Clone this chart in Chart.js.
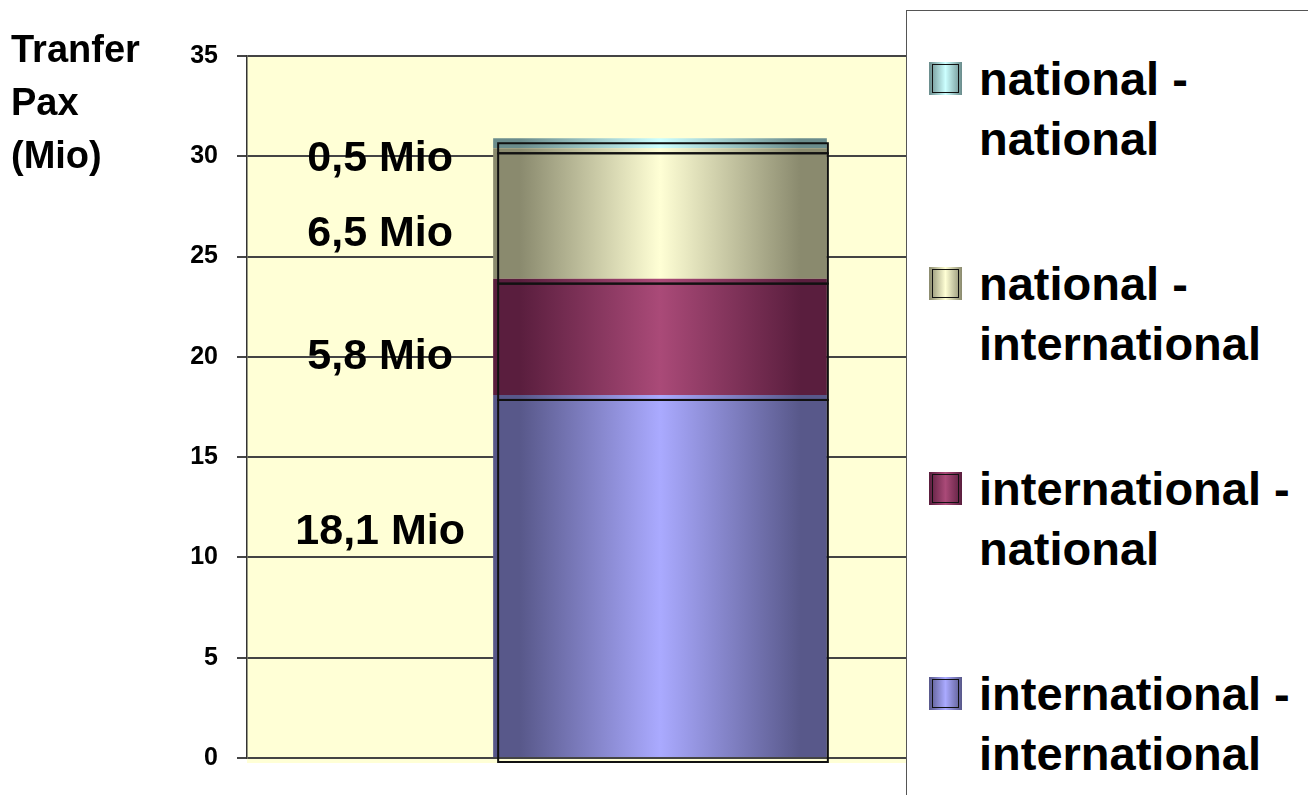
<!DOCTYPE html>
<html>
<head>
<meta charset="utf-8">
<script src="https://cdn.jsdelivr.net/npm/chart.js@4"></script>
<style>
  html, body { margin: 0; padding: 0; background: #fff; }
  body { width: 1308px; height: 795px; position: relative; overflow: hidden; font-family: "Liberation Sans", Arial, sans-serif; }
  #grafico { position: absolute; left: 0; top: 0; }
  #legenda {
    position: absolute; left: 906px; top: 10px; width: 420px; height: 800px;
    border-left: 1.5px solid #555; border-top: 1.5px solid #555; background: #fff;
  }
  .item { position: absolute; left: 0; }
  .icone { position: absolute; left: 22px; width: 33px; height: 33px; box-sizing: border-box; }
  .icone span { position: absolute; left: 3px; top: 2px; right: 3px; bottom: 2px; border: 1.5px solid #111; }
  .texto { position: absolute; left: 72px; font-weight: bold; font-size: 47px; line-height: 60px; color: #000; white-space: nowrap; }
</style>
</head>
<body>
<canvas id="grafico" width="1308" height="795"></canvas>
<div id="legenda"></div>
<script>
/* dados */
const categorias = ["Transfer"];
const series = ["international - international", "international - national", "national - international", "national - national"];
const valores = [[18.1], [5.8], [6.5], [0.5]];
const ticksY = [0, 5, 10, 15, 20, 25, 30, 35];
const tituloY = ["Tranfer", "Pax", "(Mio)"];

document.addEventListener("DOMContentLoaded", () => {

  /* cores: borda escura / centro claro */
  const cores = [
    { borda: "#58588a", centro: "#aaaaff" },
    { borda: "#5a1e3e", centro: "#aa4a78" },
    { borda: "#8a8a6e", centro: "#ffffd5" },
    { borda: "#6a8c8c", centro: "#ccffff" }
  ];

  const gradiente = (ctx, x0, x1, c) => {
    const g = ctx.createLinearGradient(x0, 0, x1, 0);
    g.addColorStop(0, c.borda);
    g.addColorStop(0.08, c.borda);
    g.addColorStop(0.5, c.centro);
    g.addColorStop(0.92, c.borda);
    g.addColorStop(1, c.borda);
    return g;
  };

  // a area do grafico continua por baixo da legenda
  const BAR_PCT = 0.404;

  const corBarra = c => {
    const chart = c.chart;
    const xs = chart.scales.x;
    const a = chart.chartArea;
    if (!xs || !a) return cores[c.datasetIndex].centro;
    const cx = xs.getPixelForValue(c.dataIndex);
    const w = (a.right - a.left) * BAR_PCT;
    if (!isFinite(cx) || !isFinite(w) || w <= 0) return cores[c.datasetIndex].centro;
    return gradiente(chart.ctx, cx - w / 2, cx + w / 2, cores[c.datasetIndex]);
  };

  /* plugin: fundo, titulo, contornos e rotulos */
  const extras = {
    id: "extras",
    beforeDraw(chart) {
      const { ctx, chartArea: a } = chart;
      ctx.save();
      ctx.fillStyle = "#ffffd6";
      ctx.fillRect(a.left, a.top, a.right - a.left, a.bottom - a.top + 5);
      ctx.fillStyle = "#000";
      ctx.font = "bold 38px 'Liberation Sans', Arial";
      ctx.textAlign = "left";
      ctx.textBaseline = "alphabetic";
      tituloY.forEach((t, i) => ctx.fillText(t, 11, 62 + i * 53));
      ctx.restore();
    },
    afterDatasetsDraw(chart, args, opts) {
      const { ctx } = chart;
      ctx.save();
      ctx.strokeStyle = "#111";
      ctx.lineWidth = 2;
      chart.data.datasets.forEach((ds, i) => {
        chart.getDatasetMeta(i).data.forEach(bar => {
          const { x, y, base, width } = bar.getProps(["x", "y", "base", "width"], true);
          ctx.strokeRect(x - width / 2 + 5, y + 5, width - 4, base - y);
        });
      });
      ctx.fillStyle = "#000";
      ctx.font = "bold 43px 'Liberation Sans', Arial";
      ctx.textAlign = "center";
      ctx.textBaseline = "middle";
      chart.data.datasets.forEach((ds, i) => {
        chart.getDatasetMeta(i).data.forEach((bar, j) => {
          const { x, y, base, width } = bar.getProps(["x", "y", "base", "width"], true);
          const txt = ds.data[j].toFixed(1).replace(".", ",") + " Mio";
          ctx.fillText(txt, x - width / 2 - opts.dx, (y + base) / 2 + opts.dy[i]);
        });
      });
      ctx.restore();
    }
  };

  const chart = new Chart(document.getElementById("grafico"), {
    type: "bar",
    data: {
      labels: categorias,
      datasets: series.map((nome, i) => ({
        label: nome,
        data: valores[i],
        backgroundColor: corBarra,
        borderWidth: 0,
        barPercentage: BAR_PCT,
        categoryPercentage: 1
      }))
    },
    plugins: [extras],
    options: {
      responsive: false,
      animation: false,
      devicePixelRatio: 1,
      layout: { padding: { left: 0, top: 56, right: 235, bottom: 37 } },
      plugins: {
        legend: { display: false },
        tooltip: { enabled: false },
        extras: { dx: 113, dy: [-44, 20, 21, 16] }
      },
      scales: {
        x: { stacked: true, display: false },
        y: {
          stacked: true,
          min: 0,
          max: 35,
          afterBuildTicks: s => { s.ticks = ticksY.map(v => ({ value: v })); },
          afterFit: s => { s.width = 247; },
          border: { display: true, color: "#333", width: 1.5 },
          grid: { color: "#444", lineWidth: 2, tickLength: 10, drawTicks: true },
          ticks: {
            color: "#000",
            padding: 19,
            font: { family: "'Liberation Sans', Arial", size: 25, weight: "bold" }
          }
        }
      }
    }
  });
  chart.update();

  /* legenda html (ordem invertida) */
  const legenda = document.getElementById("legenda");
  chart.data.datasets.slice().reverse().forEach((ds, k) => {
    const i = chart.data.datasets.length - 1 - k;
    const c = cores[i];
    const item = document.createElement("div");
    item.className = "item";
    item.style.top = (38 + k * 205) + "px";
    const partes = ds.label.split(" - ");
    item.innerHTML =
      `<div class="icone" style="top:13px;background:linear-gradient(to right, ${c.borda} 0%, ${c.centro} 50%, ${c.borda} 100%)"><span></span></div>
       <div class="texto">${partes[0]} -<br>${partes[1]}</div>`;
    legenda.appendChild(item);
  });

});
</script>
</body>
</html>
